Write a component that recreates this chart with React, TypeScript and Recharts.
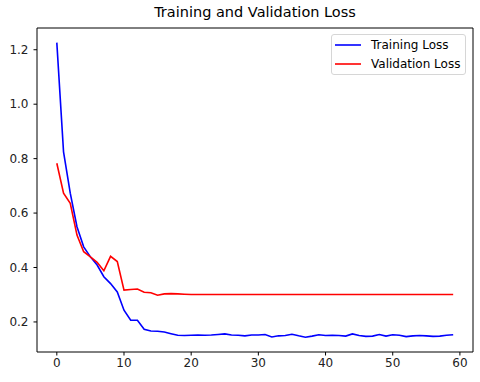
import { LineChart, Line, XAxis, YAxis, ReferenceArea } from "recharts";

const epochs = Array.from({ length: 60 }, (_, i) => i);

const trainingLoss = [
  1.226, 0.825, 0.673, 0.55, 0.476, 0.439, 0.409, 0.366, 0.341, 0.31,
  0.243, 0.206, 0.206, 0.173, 0.167, 0.166, 0.163, 0.157, 0.151, 0.15,
  0.151, 0.152, 0.151, 0.152, 0.154, 0.156, 0.152, 0.151, 0.149, 0.152,
  0.152, 0.154, 0.145, 0.149, 0.15, 0.155, 0.149, 0.144, 0.148, 0.153,
  0.15, 0.151, 0.15, 0.148, 0.156, 0.15, 0.147, 0.148, 0.154, 0.148,
  0.153, 0.151, 0.146, 0.149, 0.15, 0.149, 0.147, 0.148, 0.151, 0.153,
];

const validationLoss = [
  0.783, 0.673, 0.636, 0.519, 0.458, 0.439, 0.419, 0.388, 0.441, 0.422,
  0.317, 0.319, 0.321, 0.309, 0.307, 0.298, 0.303, 0.304, 0.303, 0.302,
  0.301, 0.301, 0.301, 0.301, 0.301, 0.301, 0.301, 0.301, 0.301, 0.301,
  0.301, 0.301, 0.301, 0.301, 0.301, 0.301, 0.301, 0.301, 0.301, 0.301,
  0.301, 0.301, 0.301, 0.301, 0.301, 0.301, 0.301, 0.301, 0.301, 0.301,
  0.301, 0.301, 0.301, 0.301, 0.301, 0.301, 0.301, 0.301, 0.301, 0.301,
];

const xTicks = [0, 10, 20, 30, 40, 50, 60];
const yTicks = [0.2, 0.4, 0.6, 0.8, 1.0, 1.2];

const series = [
  { key: "train", name: "Training Loss", color: "#0000ff" },
  { key: "val", name: "Validation Loss", color: "#ff0000" },
];

const data = epochs.map((e, i) => ({
  epoch: e,
  train: trainingLoss[i],
  val: validationLoss[i],
}));

const FONT = "'DejaVu Sans', sans-serif";

export default function App() {
  return (
    <div style={{ position: "absolute", left: 0, top: 0, width: 480, height: 382, background: "#fff" }}>
      <div
        style={{
          position: "absolute",
          top: 4,
          left: 37,
          width: 436,
          textAlign: "center",
          fontFamily: FONT,
          fontSize: 14.5,
          color: "#000",
        }}
      >
        Training and Validation Loss
      </div>
      <LineChart
        width={480}
        height={382}
        data={data}
        margin={{ top: 28, right: 7, left: 0, bottom: 0 }}
        style={{ fontFamily: FONT }}
      >
        <XAxis
          dataKey="epoch"
          type="number"
          domain={[-2.95, 61.95]}
          ticks={xTicks}
          allowDataOverflow
          height={30}
          tickSize={3.5}
          tickMargin={3}
          axisLine={false}
          tickLine={{ stroke: "#000" }}
          tick={{ fontSize: 12, fill: "#222" }}
        />
        <YAxis
          type="number"
          domain={[0.0896, 1.2799]}
          ticks={yTicks}
          allowDataOverflow
          width={37}
          tickSize={3.5}
          tickMargin={5}
          axisLine={false}
          tickLine={{ stroke: "#000" }}
          tick={{ fontSize: 12, fill: "#222" }}
          tickFormatter={(v: number) => v.toFixed(1)}
        />
        <ReferenceArea
          x1={-2.95}
          x2={61.95}
          y1={0.0896}
          y2={1.2799}
          fill="none"
          stroke="#000"
          strokeWidth={1}
          ifOverflow="visible"
        />
        {series.map((s) => (
          <Line
            key={s.key}
            dataKey={s.key}
            name={s.name}
            stroke={s.color}
            strokeWidth={1.6}
            dot={false}
            type="linear"
            isAnimationActive={false}
          />
        ))}
      </LineChart>
      {/* legend, matplotlib style */}
      <div
        style={{
          position: "absolute",
          top: 34,
          left: 331,
          width: 135,
          height: 41,
          border: "1px solid #d6d6d6",
          borderRadius: 3,
          background: "#fff",
          padding: "1px 0 0 3px",
          boxSizing: "border-box",
          fontFamily: FONT,
          fontSize: 12,
          color: "#000",
        }}
      >
        {series.map((s) => (
          <div key={s.key} style={{ display: "flex", alignItems: "center", height: 18.5 }}>
            <svg width={26} height={4} style={{ marginRight: 10 }}>
              <line x1={0} y1={2} x2={26} y2={2} stroke={s.color} strokeWidth={1.6} />
            </svg>
            <span>{s.name}</span>
          </div>
        ))}
      </div>
    </div>
  );
}
